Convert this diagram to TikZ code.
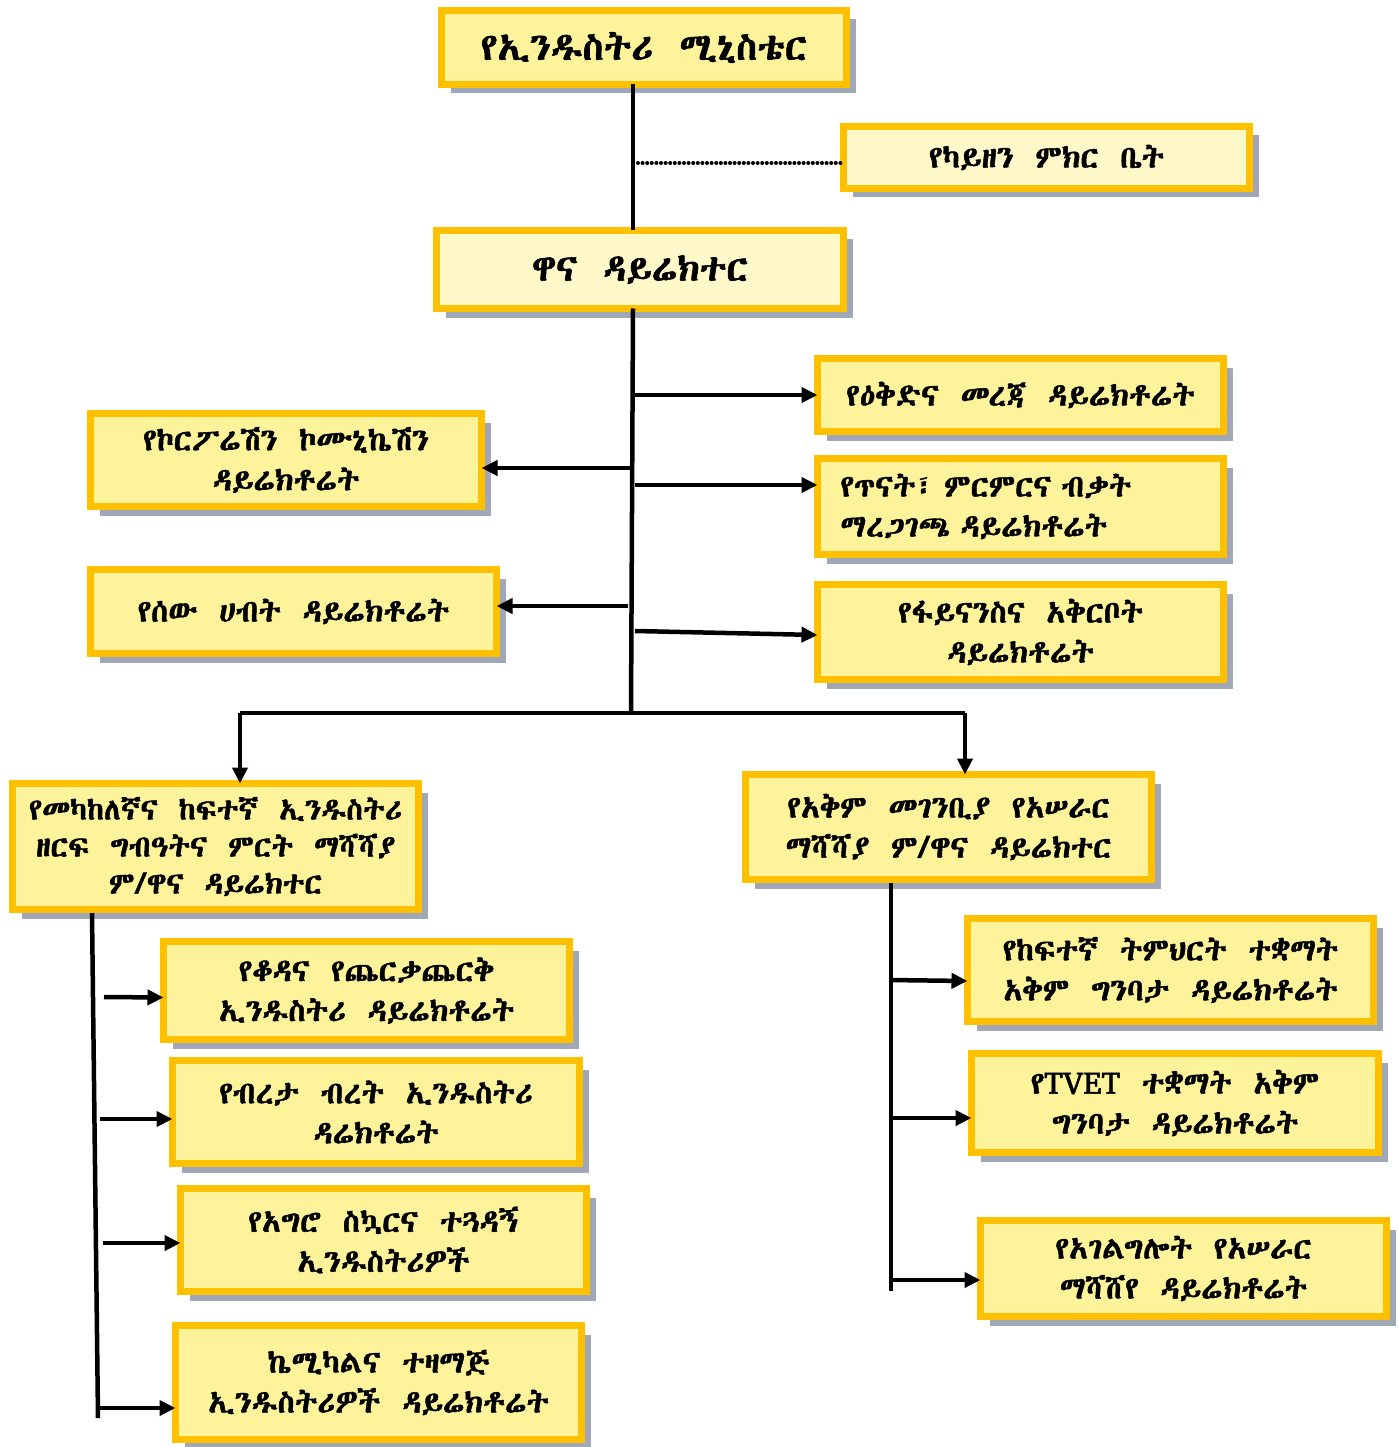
\documentclass[tikz,border=0pt]{standalone}
\usepackage{fontspec}
\usetikzlibrary{arrows.meta,shadows}
\IfFontExistsTF{Abyssinica SIL}{\newfontfamily\eth[FakeBold=1.5]{Abyssinica SIL}}{%
 \IfFontExistsTF{Noto Sans Ethiopic}{\newfontfamily\eth[FakeBold=0.5]{Noto Sans Ethiopic}}{%
  \IfFontExistsTF{Noto Serif Ethiopic}{\newfontfamily\eth{Noto Serif Ethiopic}}{%
   \IfFontExistsTF{FreeSerif}{\newfontfamily\eth[FakeBold=1.5]{FreeSerif}}{%
    \newfontfamily\eth{DejaVu Sans}}}}}
\definecolor{boxorange}{RGB}{255,192,0}
\definecolor{fillA}{RGB}{252,243,155}
\definecolor{fillB}{RGB}{255,248,200}
\definecolor{shadowc}{RGB}{160,168,184}
\newcommand{\ethsize}[2]{\eth\fontsize{#1}{#2}\selectfont\spaceskip=0.7em plus 0.1em\relax}
\tikzset{
  orgbox/.style={draw=boxorange, line width=7pt, fill=fillA, align=center,
    inner sep=0pt, outer sep=0pt,
    drop shadow={shadow xshift=9pt, shadow yshift=-9pt, fill=shadowc, opacity=1},
    font=\ethsize{31}{40}},
  lightbox/.style={orgbox, fill=fillB},
  conn/.style={line width=4.5pt, black},
  arr/.style={conn, -{Triangle[length=16pt,width=15pt]}},
  dotline/.style={line width=4pt, line cap=round, dash pattern=on 0pt off 4.6pt},
}
\begin{document}
\begin{tikzpicture}[x=1pt,y=-1pt]
\useasboundingbox (0,0) rectangle (1398,1447);
% boxes
\node[orgbox, minimum width=405pt, minimum height=74pt, font=\ethsize{38}{40}] (min) at (644,47.5) {የኢንዱስትሪ ሚኒስቴር};
\node[lightbox, minimum width=406pt, minimum height=62pt] (kai) at (1046.5,157.5) {የካይዘን ምክር ቤት};
\node[lightbox, minimum width=407pt, minimum height=78pt, font=\ethsize{37}{40}] (main) at (640,269.5) {ዋና ዳይሬክተር};
\node[orgbox, minimum width=406pt, minimum height=73pt] (plan) at (1020.5,395) {የዕቅድና መረጃ ዳይሬክቶሬት};
\node[orgbox, minimum width=391pt, minimum height=93pt] (corp) at (286,460) {የኮርፖሬሽን ኮሙኒኬሽን\\ዳይሬክቶሬት};
\node[orgbox, minimum width=406pt, minimum height=96pt, align=left, text width=360pt] (stud) at (1020.5,506.5) {የጥናት፣ ምርምርና ብቃት\\ማረጋገጫ ዳይሬክቶሬት};
\node[orgbox, minimum width=406pt, minimum height=84pt] (hr) at (293.5,611.5) {የሰው ሀብት ዳይሬክቶሬት};
\node[orgbox, minimum width=406pt, minimum height=95pt] (fin) at (1020.5,632) {የፋይናንስና አቅርቦት\\ዳይሬክቶሬት};
\node[orgbox, minimum width=406pt, minimum height=126pt, font=\ethsize{30}{37}] (mid) at (215.5,846.5) {የመካከለኛና ከፍተኛ ኢንዱስትሪ\\ዘርፍ ግብዓትና ምርት ማሻሻያ\\ም/ዋና ዳይሬክተር};
\node[orgbox, minimum width=406pt, minimum height=105pt] (cap) at (948.5,827) {የአቅም መገንቢያ የአሠራር\\ማሻሻያ ም/ዋና ዳይሬክተር};
\node[orgbox, minimum width=406pt, minimum height=98pt] (lea) at (366.5,990.5) {የቆዳና የጨርቃጨርቅ\\ኢንዱስትሪ ዳይሬክቶሬት};
\node[orgbox, minimum width=407pt, minimum height=103pt] (met) at (376,1112) {የብረታ ብረት ኢንዱስትሪ\\ዳሬክቶሬት};
\node[orgbox, minimum width=406pt, minimum height=103pt] (agr) at (383.5,1240) {የአግሮ ስኳርና ተጓዳኝ\\ኢንዱስትሪዎች};
\node[orgbox, minimum width=406pt, minimum height=114pt] (che) at (378.5,1382.5) {ኬሚካልና ተዛማጅ\\ኢንዱስትሪዎች ዳይሬክቶሬት};
\node[orgbox, minimum width=406pt, minimum height=103pt] (hig) at (1170.5,970) {የከፍተኛ ትምህርት ተቋማት\\አቅም ግንባታ ዳይሬክቶሬት};
\node[orgbox, minimum width=407pt, minimum height=99pt] (tve) at (1175,1103) {የTVET ተቋማት አቅም\\ግንባታ ዳይሬክቶሬት};
\node[orgbox, minimum width=406pt, minimum height=96pt] (ser) at (1183.5,1268.5) {የአገልግሎት የአሠራር\\ማሻሸየ ዳይሬክቶሬት};
% trunk coordinates
\coordinate (tk) at (633,0);
\coordinate (d0) at (638,163);
\coordinate (tb) at (631,713);
\coordinate (hl) at (240,713);
\coordinate (hr0) at (965,713);
\coordinate (a1) at (635,395);
\coordinate (a2) at (630,468);
\coordinate (a3) at (635,485);
\coordinate (a4) at (628,606);
\coordinate (a5) at (635,631);
\coordinate (lv1) at (92,913);
\coordinate (lv2) at (98,1418);
\coordinate (b1) at (104,997);
\coordinate (b2) at (100,1119);
\coordinate (b3) at (103,1243);
\coordinate (b4) at (100,1408);
\coordinate (rv1) at (891,883);
\coordinate (rv2) at (891,1291);
\coordinate (c1) at (889,980);
\coordinate (c2) at (893,1118);
\coordinate (c3) at (893,1280);
% connectors
\draw[conn] (min.south -| tk) -- (main.north -| tk);
\draw[dotline] (d0) -- (d0 -| kai.west);
\draw[conn] (main.south -| tk) -- (tb);
\draw[conn] (hl) -- (hr0);
\draw[arr] (hl) -- (hl |- mid.north);
\draw[arr] (hr0) -- (hr0 |- cap.north);
\draw[arr] (a1) -- (a1 -| plan.west);
\draw[arr] (a2) -- (a2 -| corp.east);
\draw[arr] (a3) -- (a3 -| stud.west);
\draw[arr] (a4) -- (a4 -| hr.east);
\draw[arr] (a5) -- ([yshift=-3pt]fin.west);
\draw[conn] (lv1) -- (lv2);
\draw[arr] (b1) -- ([yshift=-7pt]lea.west);
\draw[arr] (b2) -- (b2 -| met.west);
\draw[arr] (b3) -- (b3 -| agr.west);
\draw[arr] (b4) -- (b4 -| che.west);
\draw[conn] (rv1) -- (rv2);
\draw[arr] (c1) -- ([yshift=-11pt]hig.west);
\draw[arr] (c2) -- (c2 -| tve.west);
\draw[arr] (c3) -- (c3 -| ser.west);
\end{tikzpicture}
\end{document}
